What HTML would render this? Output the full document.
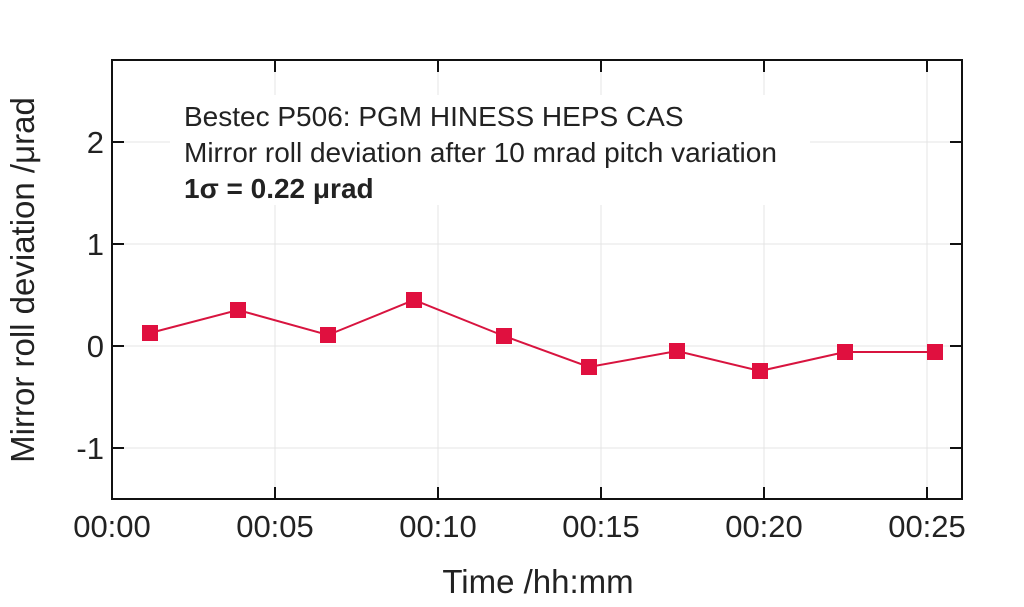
<!DOCTYPE html>
<html><head><style>body{margin:0;background:#fff}</style></head><body>
<svg width="1024" height="602" xmlns="http://www.w3.org/2000/svg" font-family="Liberation Sans, sans-serif">
<g stroke="#e4e4e4" stroke-width="1">
<line x1="112" y1="142" x2="962" y2="142"/><line x1="112" y1="244" x2="962" y2="244"/><line x1="112" y1="346" x2="962" y2="346"/><line x1="112" y1="448" x2="962" y2="448"/>
<line x1="275" y1="60" x2="275" y2="499"/><line x1="438" y1="60" x2="438" y2="499"/><line x1="601" y1="60" x2="601" y2="499"/><line x1="764" y1="60" x2="764" y2="499"/><line x1="927" y1="60" x2="927" y2="499"/>
</g>
<rect x="170" y="95" width="640" height="110" fill="#fff"/>
<rect x="112" y="60" width="850" height="439" fill="none" stroke="#111" stroke-width="2"/>
<g stroke="#111" stroke-width="2">
<line x1="112" y1="142" x2="124" y2="142"/><line x1="112" y1="244" x2="124" y2="244"/><line x1="112" y1="346" x2="124" y2="346"/><line x1="112" y1="448" x2="124" y2="448"/>
<line x1="962" y1="142" x2="950" y2="142"/><line x1="962" y1="244" x2="950" y2="244"/><line x1="962" y1="346" x2="950" y2="346"/><line x1="962" y1="448" x2="950" y2="448"/>
<line x1="275" y1="499" x2="275" y2="487"/><line x1="438" y1="499" x2="438" y2="487"/><line x1="601" y1="499" x2="601" y2="487"/><line x1="764" y1="499" x2="764" y2="487"/><line x1="927" y1="499" x2="927" y2="487"/>
<line x1="275" y1="60" x2="275" y2="72"/><line x1="438" y1="60" x2="438" y2="72"/><line x1="601" y1="60" x2="601" y2="72"/><line x1="764" y1="60" x2="764" y2="72"/><line x1="927" y1="60" x2="927" y2="72"/>
</g>
<g font-size="31" fill="#222" text-anchor="end">
<text x="104" y="153">2</text><text x="104" y="255">1</text><text x="104" y="357">0</text><text x="104" y="459">-1</text>
</g>
<g font-size="31" fill="#222" text-anchor="middle">
<text x="112" y="537">00:00</text><text x="275" y="537">00:05</text><text x="438" y="537">00:10</text><text x="601" y="537">00:15</text><text x="764" y="537">00:20</text><text x="927" y="537">00:25</text>
<text x="538" y="593" font-size="33">Time /hh:mm</text>
<text transform="translate(34,280) rotate(-90)" font-size="33">Mirror roll deviation /μrad</text>
</g>
<g font-size="28" fill="#222">
<text x="184" y="126">Bestec P506: PGM HINESS HEPS CAS</text>
<text x="184" y="162">Mirror roll deviation after 10 mrad pitch variation</text>
<text x="184" y="198" font-weight="bold">1σ = 0.22 μrad</text>
</g>
<polyline fill="none" stroke="#d8143f" stroke-width="2" points="150,333 238,310 328,335 414,300 504,336 589,367 677,351 760,371 845,352 935,352"/>
<g fill="#e0103f">
<rect x="142" y="325" width="16" height="16"/><rect x="230" y="302" width="16" height="16"/><rect x="320" y="327" width="16" height="16"/><rect x="406" y="292" width="16" height="16"/><rect x="496" y="328" width="16" height="16"/><rect x="581" y="359" width="16" height="16"/><rect x="669" y="343" width="16" height="16"/><rect x="752" y="363" width="16" height="16"/><rect x="837" y="344" width="16" height="16"/><rect x="927" y="344" width="16" height="16"/>
</g>
</svg>
</body></html>
